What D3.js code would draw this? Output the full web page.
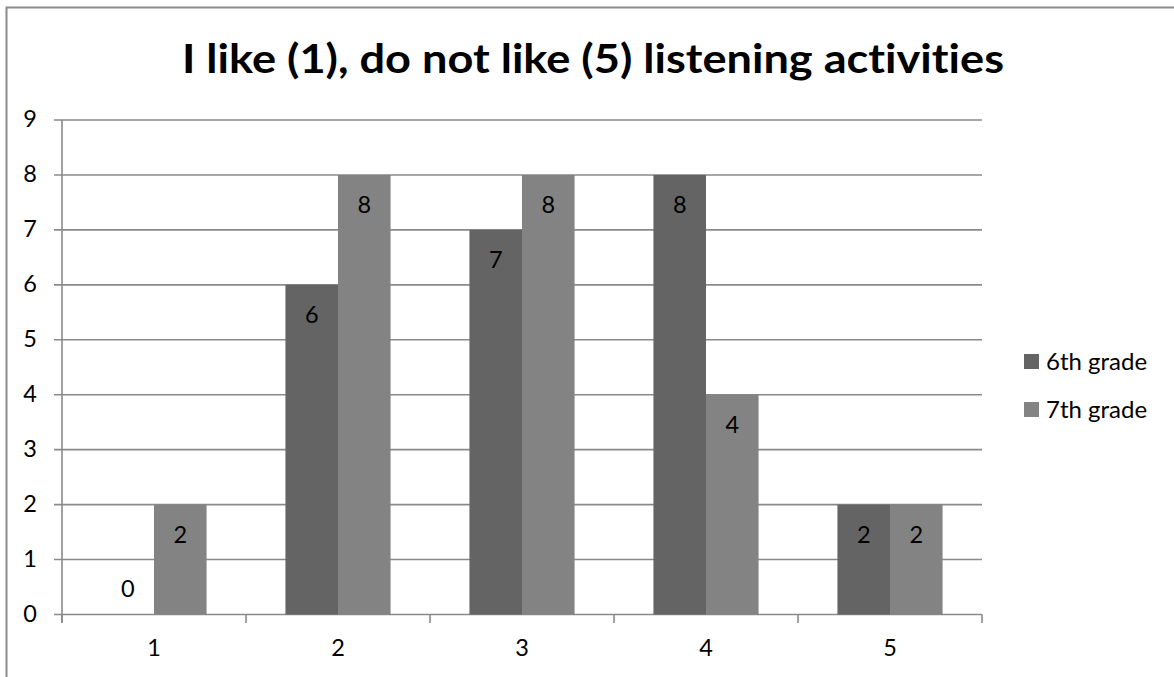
<!DOCTYPE html>
<html>
<head>
<meta charset="utf-8">
<script src="https://cdn.jsdelivr.net/npm/d3@7"></script>
<style>
  html, body { margin: 0; padding: 0; background: #fff; }
  svg { display: block; }
  text { font-family: Lato, "Open Sans", sans-serif; fill: #000; font-variant-ligatures: none; font-feature-settings: "liga" 0; }
</style>
</head>
<body>
<svg id="chart" width="1174" height="677"></svg>
<script>
// Survey answers: 1 = like, 5 = do not like
const categories = ["1", "2", "3", "4", "5"];
const seriesNames = ["6th grade", "7th grade"];
const grade6 = [0, 6, 7, 8, 2];
const grade7 = [2, 8, 8, 4, 2];
const yTicks = [0, 1, 2, 3, 4, 5, 6, 7, 8, 9];
const titleText = "I like (1), do not like (5) listening activities";

const colors = { "6th grade": "#646464", "7th grade": "#838383" };
const gridColor = "#8a8a8a";

const svg = d3.select("#chart");

// chart frame
svg.append("rect")
  .attr("x", 6.5).attr("y", 7.5)
  .attr("width", 1200).attr("height", 700)
  .attr("fill", "none")
  .attr("stroke", "#8c8c8c")
  .attr("stroke-width", 2);

// plot area
const plot = { left: 62, right: 982, top: 120, bottom: 614.5 };

const x0 = d3.scaleBand()
  .domain(categories)
  .range([plot.left, plot.right])
  .paddingInner(1.5 / 3.5)
  .paddingOuter(0.75 / 3.5);

const x1 = d3.scaleBand()
  .domain(seriesNames)
  .range([0, x0.bandwidth()]);

const y = d3.scaleLinear()
  .domain([0, 9])
  .range([plot.bottom, plot.top]);

// horizontal gridlines
svg.append("g")
  .selectAll("line")
  .data(yTicks)
  .join("line")
  .attr("x1", plot.left - 8)
  .attr("x2", plot.right)
  .attr("y1", d => y(d))
  .attr("y2", d => y(d))
  .attr("stroke", gridColor)
  .attr("stroke-width", 1.6);

// y axis line
svg.append("line")
  .attr("x1", plot.left).attr("x2", plot.left)
  .attr("y1", plot.top).attr("y2", plot.bottom + 8)
  .attr("stroke", gridColor)
  .attr("stroke-width", 1.6);

// y tick labels
svg.append("g")
  .selectAll("text")
  .data(yTicks)
  .join("text")
  .attr("x", 37)
  .attr("y", d => y(d) + 7)
  .attr("text-anchor", "end")
  .attr("font-size", 23.5)
  .text(d => d);

// x category boundary ticks
const boundaries = categories.map(c => x0(c) - x0.step() * x0.paddingOuter());
boundaries.push(plot.right);
svg.append("g")
  .selectAll("line")
  .data(boundaries)
  .join("line")
  .attr("x1", d => d).attr("x2", d => d)
  .attr("y1", plot.bottom)
  .attr("y2", plot.bottom + 8.5)
  .attr("stroke", gridColor)
  .attr("stroke-width", 1.6);

// x category labels
svg.append("g")
  .selectAll("text")
  .data(categories)
  .join("text")
  .attr("x", d => x0(d) + x0.bandwidth() / 2)
  .attr("y", 656)
  .attr("text-anchor", "middle")
  .attr("font-size", 23.5)
  .text(d => d);

// bars
const rows = categories.map((c, i) => ({
  cat: c,
  values: [
    { name: "6th grade", value: grade6[i] },
    { name: "7th grade", value: grade7[i] }
  ]
}));

const groups = svg.append("g")
  .selectAll("g")
  .data(rows)
  .join("g")
  .attr("transform", d => `translate(${x0(d.cat)},0)`);

groups.selectAll("rect")
  .data(d => d.values)
  .join("rect")
  .attr("x", d => x1(d.name))
  .attr("y", d => y(d.value))
  .attr("width", x1.bandwidth())
  .attr("height", d => y(0) - y(d.value))
  .attr("fill", d => colors[d.name]);

// value labels: inside the top of the bar, above the axis when the bar is empty
groups.selectAll("text")
  .data(d => d.values)
  .join("text")
  .attr("x", d => x1(d.name) + x1.bandwidth() / 2)
  .attr("y", d => (y(0) - y(d.value) > 40) ? y(d.value) + 38 : y(d.value) - 18)
  .attr("text-anchor", "middle")
  .attr("font-size", 23.5)
  .text(d => d.value);

// legend
const legend = svg.append("g")
  .selectAll("g")
  .data(seriesNames)
  .join("g")
  .attr("transform", (d, i) => `translate(1024,${354 + i * 48})`);

legend.append("rect")
  .attr("width", 15).attr("height", 15)
  .attr("fill", d => colors[d]);

legend.append("text")
  .attr("x", 22)
  .attr("y", 16)
  .attr("font-size", 24)
  .text(d => d);

// title, fitted to its width
svg.append("text")
  .attr("x", 593)
  .attr("y", 73)
  .attr("text-anchor", "middle")
  .attr("font-weight", "bold")
  .attr("font-size", 40)
  .attr("textLength", 822)
  .attr("lengthAdjust", "spacingAndGlyphs")
  .text(titleText);
</script>
</body>
</html>
